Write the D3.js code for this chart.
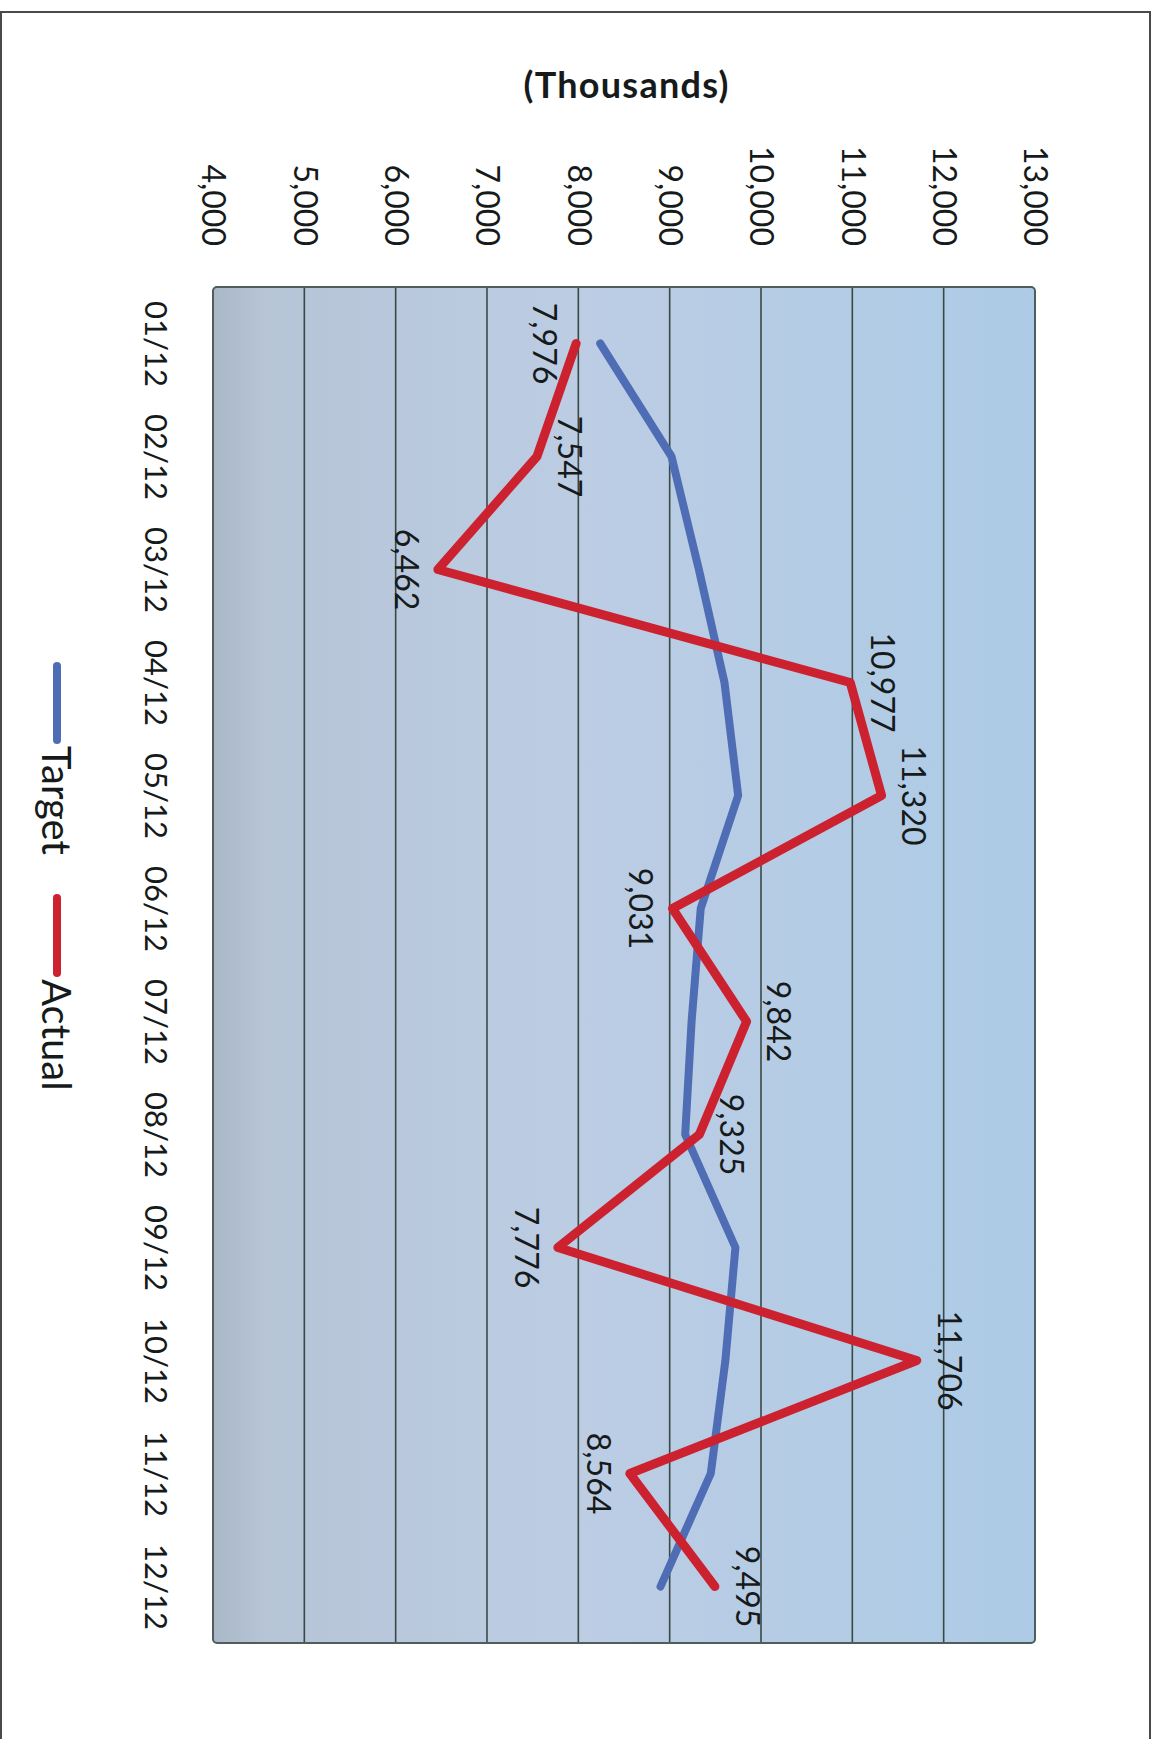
<!DOCTYPE html>
<html>
<head>
<meta charset="utf-8">
<script src="https://cdn.jsdelivr.net/npm/d3@7"></script>
<style>
  body { margin: 0; background: #fff; }
  svg { display: block; }
  text { font-family: Lato, "Noto Sans", sans-serif; fill: #161a1a; }
</style>
</head>
<body>
<div id="chart"></div>
<script>
const months = ["01/12", "02/12", "03/12", "04/12", "05/12", "06/12",
                "07/12", "08/12", "09/12", "10/12", "11/12", "12/12"];
const target = [8240, 9020, 9320, 9600, 9750, 9340, 9240, 9170, 9720, 9610, 9450, 8900];
const actual = [7976, 7547, 6462, 10977, 11320, 9031, 9842, 9325, 7776, 11706, 8564, 9495];
// which side of the point each label of Actual sits on (L = lower value side)
const labelSide = ["L", "R", "L", "R", "R", "L", "R", "R", "L", "R", "L", "R"];
const valueTicks = [4000, 5000, 6000, 7000, 8000, 9000, 10000, 11000, 12000, 13000];

const W = 1159, H = 1739;
const plot = { left: 213, right: 1035, top: 287, bottom: 1643 };

const svg = d3.select("#chart").append("svg")
    .attr("width", W)
    .attr("height", H);

// page frame
svg.append("rect")
    .attr("x", 1).attr("y", 12)
    .attr("width", 1149).attr("height", H)
    .attr("fill", "none")
    .attr("stroke", "#4a4a4a")
    .attr("stroke-width", 2);

// the chart is printed turned a quarter clockwise: values run across, months run down
const x = d3.scaleLinear().domain([4000, 13000]).range([plot.left, plot.right]);
const y = d3.scalePoint().domain(months).range([plot.top, plot.bottom]).padding(0.5);

const defs = svg.append("defs");
const grad = defs.append("linearGradient").attr("id", "bg")
    .attr("x1", "0%").attr("x2", "100%").attr("y1", "0%").attr("y2", "0%");
grad.append("stop").attr("offset", "0%").attr("stop-color", "#a9b7c6");
grad.append("stop").attr("offset", "6%").attr("stop-color", "#b6c4d6");
grad.append("stop").attr("offset", "45%").attr("stop-color", "#bccde4");
grad.append("stop").attr("offset", "100%").attr("stop-color", "#adcbe6");

svg.append("rect")
    .attr("x", plot.left).attr("y", plot.top)
    .attr("width", plot.right - plot.left)
    .attr("height", plot.bottom - plot.top)
    .attr("rx", 4)
    .attr("fill", "url(#bg)");

// gridlines
svg.append("g")
    .selectAll("line")
    .data(valueTicks.slice(1, -1))
    .join("line")
    .attr("x1", d => x(d)).attr("x2", d => x(d))
    .attr("y1", plot.top).attr("y2", plot.bottom)
    .attr("stroke", "#3b4944")
    .attr("stroke-width", 1.6);

svg.append("rect")
    .attr("x", plot.left).attr("y", plot.top)
    .attr("width", plot.right - plot.left)
    .attr("height", plot.bottom - plot.top)
    .attr("rx", 4)
    .attr("fill", "none")
    .attr("stroke", "#4f5d5b")
    .attr("stroke-width", 2);

// value axis labels
svg.append("g")
    .attr("transform", "translate(0,246)")
    .call(d3.axisTop(x).tickValues(valueTicks).tickSize(0).tickFormat(d3.format(",")))
    .call(g => g.select(".domain").remove())
    .selectAll("text")
    .attr("x", 0).attr("y", 0)
    .attr("dy", "0.35em")
    .attr("transform", "rotate(90)")
    .attr("text-anchor", "end")
    .attr("font-size", 32)
    .attr("font-family", null)
    .attr("fill", "#161a1a");

// month labels
svg.append("g")
    .attr("transform", "translate(156,0)")
    .call(d3.axisLeft(y).tickSize(0))
    .call(g => g.select(".domain").remove())
    .selectAll("text")
    .attr("x", 0).attr("y", 0)
    .attr("dy", "0.35em")
    .attr("transform", "rotate(90)")
    .attr("text-anchor", "middle")
    .attr("font-size", 31)
    .attr("font-family", null)
    .attr("fill", "#161a1a");

// units label
svg.append("text")
    .attr("x", 626).attr("y", 98)
    .attr("text-anchor", "middle")
    .attr("font-size", 36)
    .attr("font-weight", "bold")
    .attr("textLength", 205)
    .attr("lengthAdjust", "spacing")
    .text("(Thousands)");

const line = d3.line()
    .x(d => x(d.v))
    .y(d => y(d.m));

const targetPts = months.map((m, i) => ({ m, v: target[i] }));
const actualPts = months.map((m, i) => ({ m, v: actual[i] }));

svg.append("path")
    .datum(targetPts)
    .attr("fill", "none")
    .attr("stroke", "#4f6db4")
    .attr("stroke-width", 8)
    .attr("stroke-linejoin", "round")
    .attr("stroke-linecap", "round")
    .attr("d", line);

svg.append("path")
    .datum(actualPts)
    .attr("fill", "none")
    .attr("stroke", "#cc2230")
    .attr("stroke-width", 9)
    .attr("stroke-linejoin", "round")
    .attr("stroke-linecap", "round")
    .attr("d", line);

// data labels on Actual
svg.append("g")
    .selectAll("text")
    .data(actualPts)
    .join("text")
    .attr("transform", (d, i) =>
        `translate(${x(d.v) + (labelSide[i] === "L" ? -32 : 32)},${y(d.m)}) rotate(90)`)
    .attr("dy", "0.35em")
    .attr("text-anchor", "middle")
    .attr("font-size", 32)
    .text(d => d3.format(",")(d.v));

// legend
const legend = [
    { name: "Target", color: "#4f6db4", y0: 666, y1: 740 },
    { name: "Actual", color: "#cc2230", y0: 898, y1: 973 }
];
const lg = svg.append("g").selectAll("g").data(legend).join("g");
lg.append("line")
    .attr("x1", 57).attr("x2", 57)
    .attr("y1", d => d.y0).attr("y2", d => d.y1)
    .attr("stroke", d => d.color)
    .attr("stroke-width", 8)
    .attr("stroke-linecap", "round");
lg.append("text")
    .attr("transform", d => `translate(56,${d.y1 + 6}) rotate(90)`)
    .attr("dy", "0.35em")
    .attr("font-size", 40)
    .text(d => d.name);
</script>
</body>
</html>
